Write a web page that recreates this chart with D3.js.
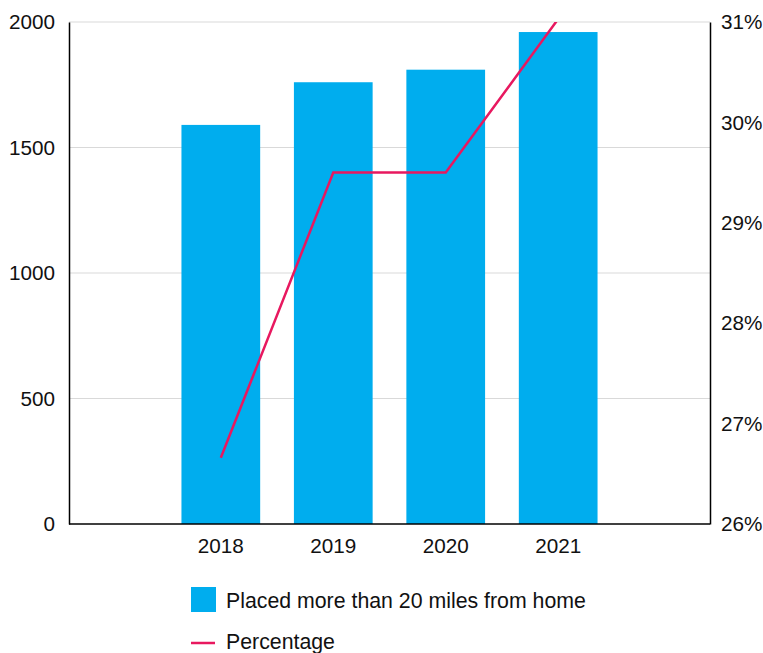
<!DOCTYPE html>
<html><head><meta charset="utf-8">
<script src="https://cdn.jsdelivr.net/npm/d3@7"></script>
<style>body{margin:0;background:#fff;} text{font-family:"Liberation Sans",Arial,sans-serif;}</style>
</head><body>
<svg id="c" width="763" height="653"></svg>
<script>
const years = ["2018","2019","2020","2021"];
const placed = [1590, 1760, 1810, 1960];
const percentage = [26.66, 29.5, 29.5, 31.03];
const leftTicks = [0, 500, 1000, 1500, 2000];
const rightTicks = [26, 27, 28, 29, 30, 31];
const seriesNames = ["Placed more than 20 miles from home", "Percentage"];

const svg = d3.select("#c");
const L = 69, R = 710, T = 22, B = 524;
const barColor = "#00adee", lineColor = "#e8185f";

const x = d3.scaleBand().domain(years).range([L, R]).paddingInner(0.3).paddingOuter(1);
const y = d3.scaleLinear().domain([0, 2000]).range([B, T]);
const y2 = d3.scaleLinear().domain([26, 31]).range([B, T]);

// gridlines
svg.append("g").selectAll("line").data(leftTicks.filter(d => d > 0)).join("line")
  .attr("x1", L).attr("x2", R).attr("y1", d => y(d)).attr("y2", d => y(d))
  .attr("stroke", "#d9d9d9").attr("stroke-width", 1);

// bars
svg.append("g").selectAll("rect").data(years).join("rect")
  .attr("x", d => x(d)).attr("width", x.bandwidth())
  .attr("y", (d, i) => y(placed[i])).attr("height", (d, i) => B - y(placed[i]))
  .attr("fill", barColor);

// line
svg.append("clipPath").attr("id", "clip").append("rect")
  .attr("x", L).attr("y", T).attr("width", R - L).attr("height", B - T);
const line = d3.line().x((d, i) => x(years[i]) + x.bandwidth() / 2).y(d => y2(d));
svg.append("path").datum(percentage).attr("d", line)
  .attr("clip-path", "url(#clip)")
  .attr("fill", "none").attr("stroke", lineColor).attr("stroke-width", 2.5);

// axes
const ax = svg.append("g").attr("transform", `translate(${L},0)`)
  .call(d3.axisLeft(y).tickValues(leftTicks).tickSize(0).tickPadding(14).tickFormat(d3.format("d")));
const ax2 = svg.append("g").attr("transform", `translate(${R},0)`)
  .call(d3.axisRight(y2).tickValues(rightTicks).tickSize(0).tickPadding(11).tickFormat(d => d + "%"));
const ax3 = svg.append("g").attr("transform", `translate(0,${B})`)
  .call(d3.axisBottom(x).tickSize(0).tickPadding(14));
[ax, ax2, ax3].forEach(g => {
  g.selectAll("text").attr("font-size", 20.7).attr("fill", "#111").attr("font-family", "Liberation Sans, Arial, sans-serif");
  g.select(".domain").attr("stroke", "#000").attr("stroke-width", 1.5);
});
ax3.select(".domain").attr("d", `M${L},0H${R}`);

// legend
const lg = svg.append("g");
lg.append("rect").attr("x", 191).attr("y", 587).attr("width", 25).attr("height", 25).attr("fill", barColor);
lg.append("text").attr("x", 226).attr("y", 608).attr("font-size", 21.3).attr("fill", "#111").text(seriesNames[0]);
lg.append("line").attr("x1", 191).attr("x2", 215).attr("y1", 643).attr("y2", 643)
  .attr("stroke", lineColor).attr("stroke-width", 2.5);
lg.append("text").attr("x", 226).attr("y", 649).attr("font-size", 21.3).attr("fill", "#111").text(seriesNames[1]);
</script>
</body></html>
